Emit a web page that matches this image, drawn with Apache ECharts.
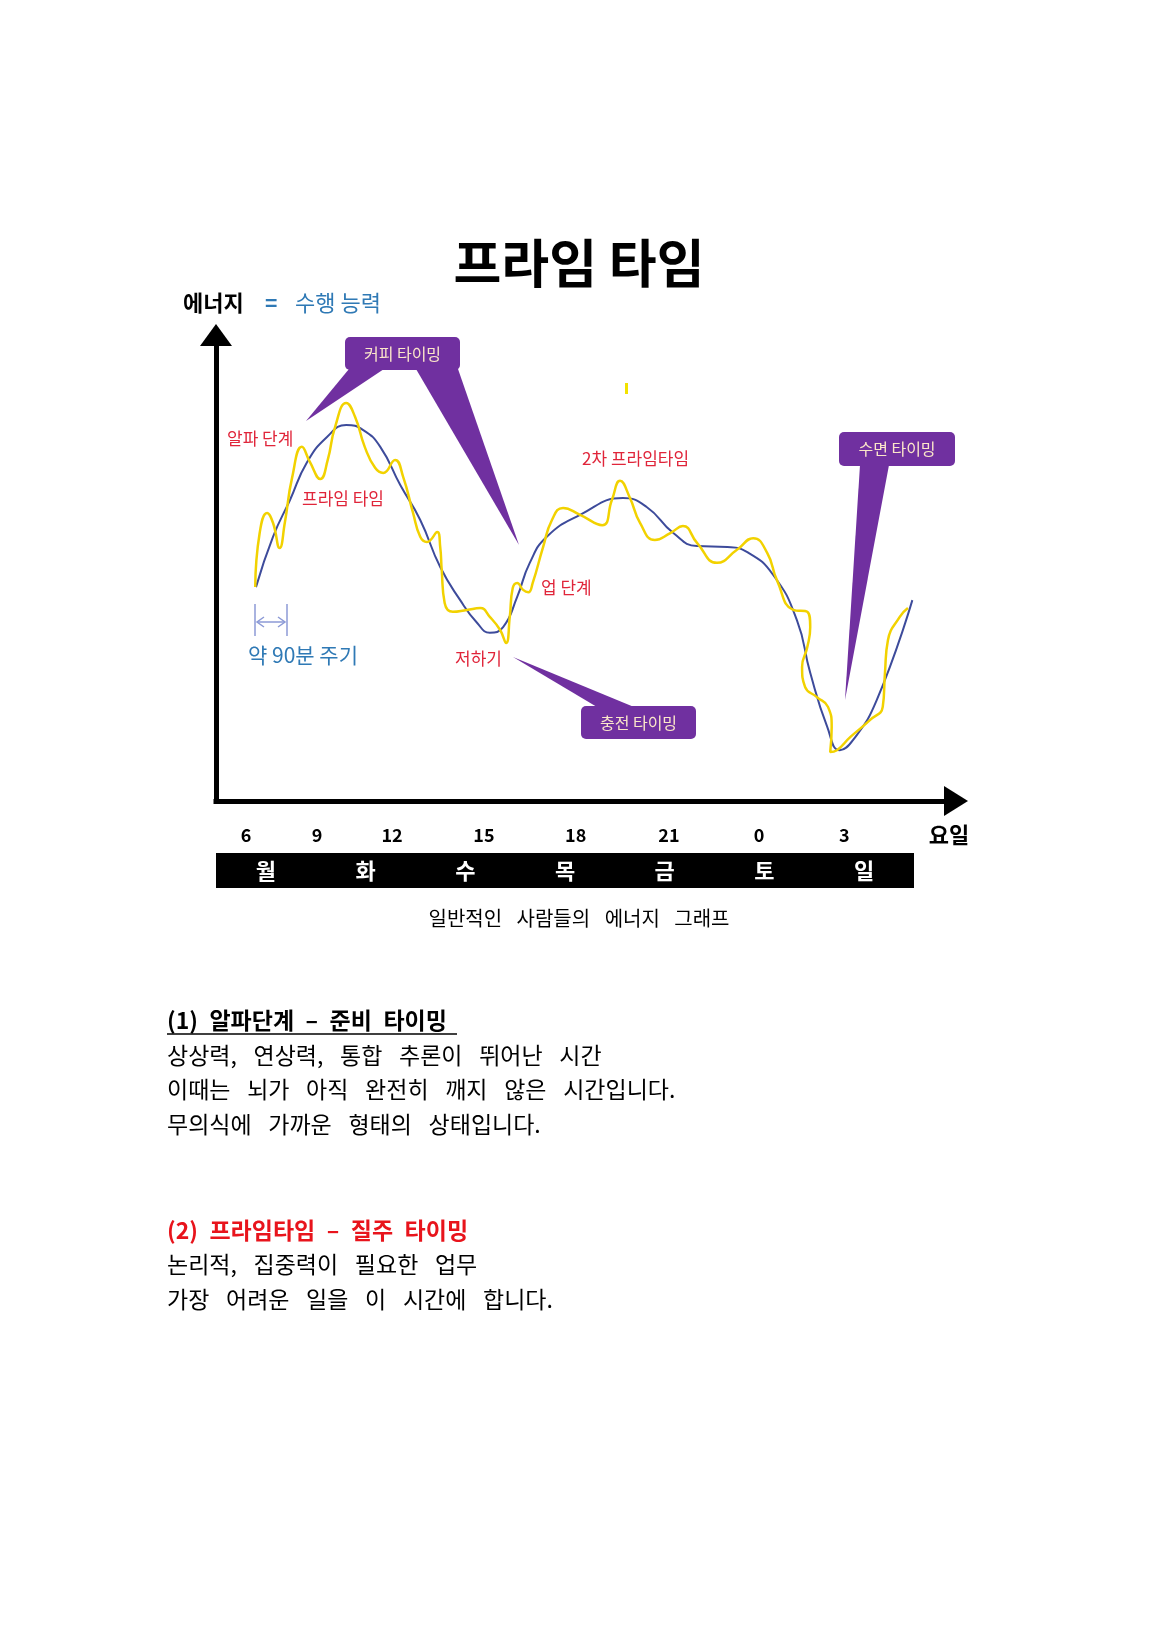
<!DOCTYPE html>
<html><head><meta charset="utf-8">
<script src="https://cdn.jsdelivr.net/npm/echarts@6/dist/echarts.min.js"></script>
<style>html,body{margin:0;padding:0;background:#fff}#c{width:1157px;height:1636px}</style>
</head><body><div id="c"></div>
<script>
// ---- data (x: position along time axis 0..100, y: energy 0..100) ----
const hourTickPos = [4.05, 13.65, 23.8, 36.2, 48.6, 61.2, 73.4, 84.9];
const hourTickLabels = ['6', '9', '12', '15', '18', '21', '0', '3'];
const days = ['월', '화', '수', '목', '금', '토', '일'];

const blueCurve = [
  [5.4, 45.9], [7.7, 56.7], [10.0, 64.6], [12.3, 72.7], [15.0, 78.1], [17.6, 80.7],
  [19.9, 79.6], [22.2, 76.0], [24.9, 67.8], [27.6, 60.3], [30.3, 50.2], [33.0, 43.1],
  [35.3, 38.2], [37.0, 36.1], [38.8, 37.3], [40.7, 43.8], [42.4, 51.1], [44.7, 56.7],
  [49.2, 61.4], [55.0, 65.0], [58.2, 63.1], [61.8, 57.5], [65.0, 54.7], [69.1, 54.5],
  [71.8, 53.4], [75.3, 48.5], [78.5, 38.8], [80.3, 27.5], [82.6, 15.9], [84.3, 10.9],
  [86.1, 13.1], [89.3, 21.7], [94.1, 43.1]
];

const yellowCurve = [
  [5.3, 45.9], [5.9, 57.5], [6.9, 61.8], [7.7, 59.7], [8.6, 54.3], [9.3, 59.7],
  [10.3, 69.5], [11.6, 76.0], [12.7, 72.7], [14.1, 69.1], [15.1, 73.2], [16.1, 80.3],
  [17.6, 85.4], [18.8, 82.4], [20.1, 76.0], [21.5, 71.5], [22.6, 70.4], [24.2, 73.2],
  [25.3, 69.5], [26.6, 62.0], [27.6, 56.7], [28.5, 55.6], [29.9, 57.7], [30.3, 54.5],
  [30.5, 49.6], [30.9, 42.5], [32.0, 40.6], [33.9, 41.0], [35.7, 41.4], [37.0, 39.5],
  [38.4, 36.7], [39.2, 33.9], [39.7, 39.5], [40.1, 45.7], [40.7, 46.8], [41.5, 45.3],
  [42.2, 44.8], [42.8, 46.8], [44.2, 54.5], [45.4, 60.3], [46.9, 62.9], [49.2, 61.4],
  [52.2, 59.2], [53.5, 64.6], [54.6, 68.7], [55.9, 65.2], [57.3, 59.7], [59.3, 56.0],
  [61.4, 57.5], [63.1, 59.0], [65.0, 55.4], [67.7, 51.1], [70.4, 53.9], [72.6, 56.4],
  [74.5, 53.2], [75.8, 47.4], [78.0, 41.0], [79.9, 40.6], [80.3, 37.3], [79.9, 33.0],
  [79.2, 28.8], [79.6, 24.5], [81.2, 22.3], [82.7, 20.2], [83.2, 15.9], [83.0, 10.5],
  [83.9, 10.9], [85.7, 13.7], [88.4, 17.4], [90.1, 20.2], [90.4, 27.5], [90.8, 34.5],
  [92.4, 39.5], [93.5, 41.4]
];

const redLabels = ['알파 단계', '프라임 타임', '저하기', '업 단계', '2차 프라임타임'];
const calloutTexts = ['커피 타이밍', '수면 타이밍', '충전 타이밍'];
const heading1 = '(1) 알파단계 – 준비 타이밍';
const heading2 = '(2) 프라임타임 – 질주 타이밍';
const bodyLines1 = ['상상력, 연상력, 통합 추론이 뛰어난 시간', '이때는 뇌가 아직 완전히 깨지 않은 시간입니다.', '무의식에 가까운 형태의 상태입니다.'];
const bodyLines2 = ['논리적, 집중력이 필요한 업무', '가장 어려운 일을 이 시간에 합니다.'];

// ---- chart ----
const FONT = '"Noto Sans CJK KR", "Noto Sans", sans-serif';
const chart = echarts.init(document.getElementById('c'), null, {renderer: 'canvas', width: 1157, height: 1636});

const PURPLE = '#7030a0';
const CREAM = '#fbe6c9';
const RED = '#e0253a';

function wide(s) { return s.replace(/ /g, '\u2002 '); }
function half(s) { return s.replace(/ /g, '\u2002'); }

function txt(text, x, y, size, opts) {
  opts = opts || {};
  return {
    type: 'text', x: x, y: y, z: 20,
    style: {
      text: text,
      font: (opts.weight || 'normal') + ' ' + size + 'px ' + FONT,
      fill: opts.color || '#000',
      align: opts.align || 'left',
      verticalAlign: 'middle'
    }
  };
}
function poly(points, fill) {
  return {type: 'polygon', z: 15, shape: {points: points}, style: {fill: fill}};
}
function box(x, y, w, h, label) {
  return [
    {type: 'rect', z: 15, shape: {x: x, y: y, width: w, height: h, r: 5}, style: {fill: PURPLE}},
    txt(label, x + w / 2, y + h / 2, 16, {color: CREAM, align: 'center'})
  ];
}
const dimColor = '#8c9ad6';

const graphics = [].concat(
  [
    txt('프라임 타임', 579, 263, 52, {weight: 'bold', align: 'center'}),
    txt('에너지', 183, 303, 22, {weight: 'bold'}),
    txt('=', 265, 303, 21, {weight: 'bold', color: '#2f79b5'}),
    txt('수행 능력', 295, 303, 22, {color: '#2f79b5'}),
    txt('요일', 949, 835, 22, {weight: 'bold', align: 'center'}),
    txt(wide('일반적인 사람들의 에너지 그래프'), 579, 918, 20, {align: 'center'}),
    // red annotations
    txt(redLabels[0], 227, 439, 17, {color: RED}),
    txt(redLabels[1], 302, 499, 17, {color: RED}),
    txt(redLabels[2], 455, 659, 17, {color: RED}),
    txt(redLabels[3], 541, 588, 17, {color: RED}),
    txt(redLabels[4], 582, 459, 17, {color: RED}),
    // 90-minute marker
    {type: 'line', z: 15, shape: {x1: 255, y1: 604, x2: 255, y2: 636}, style: {stroke: dimColor, lineWidth: 1.5}},
    {type: 'line', z: 15, shape: {x1: 287, y1: 604, x2: 287, y2: 636}, style: {stroke: dimColor, lineWidth: 1.5}},
    {type: 'line', z: 15, shape: {x1: 257, y1: 622, x2: 285, y2: 622}, style: {stroke: dimColor, lineWidth: 1.5}},
    {type: 'polyline', z: 15, shape: {points: [[264, 617], [257, 622], [264, 627]]}, style: {stroke: dimColor, lineWidth: 1.5, fill: null}},
    {type: 'polyline', z: 15, shape: {points: [[278, 617], [285, 622], [278, 627]]}, style: {stroke: dimColor, lineWidth: 1.5, fill: null}},
    txt('약 90분 주기', 248, 655, 21, {color: '#2f79b5'}),
    // small yellow mark
    {type: 'rect', z: 15, shape: {x: 625, y: 383, width: 3, height: 11}, style: {fill: '#f2e200'}},
    // callout pointers
    poly([[349, 369], [384, 369], [306, 421]], PURPLE),
    poly([[416, 369], [458, 369], [519, 545]], PURPLE),
    poly([[860, 465], [889, 465], [845, 700]], PURPLE),
    poly([[597, 707], [634, 707], [513, 657]], PURPLE)
  ],
  box(345, 337, 115, 33, calloutTexts[0]),
  box(839, 432, 116, 34, calloutTexts[1]),
  box(581, 706, 115, 33, calloutTexts[2]),
  [
    txt(half(heading1), 167, 1020, 23, {weight: 'bold'}),
    {type: 'line', z: 15, shape: {x1: 167, y1: 1034, x2: 457, y2: 1034}, style: {stroke: '#000', lineWidth: 1.5}},
    txt(wide(bodyLines1[0]), 167, 1055, 23),
    txt(wide(bodyLines1[1]), 167, 1089, 23),
    txt(wide(bodyLines1[2]), 167, 1124, 23),
    txt(half(heading2), 167, 1230, 23, {weight: 'bold', color: '#e8141c'}),
    txt(wide(bodyLines2[0]), 167, 1264, 23),
    txt(wide(bodyLines2[1]), 167, 1299, 23)
  ]
);

chart.setOption({
  backgroundColor: '#fff',
  animation: false,
  grid: [
    {left: 216, top: 335, width: 740, height: 466, containLabel: false},
    {left: 216, top: 853, width: 698, height: 35, show: true, backgroundColor: '#000', borderWidth: 0}
  ],
  xAxis: [
    {
      type: 'value', gridIndex: 0, min: 0, max: 100,
      splitLine: {show: false}, axisTick: {show: false},
      axisLine: {show: true, onZero: true, symbol: ['none', 'triangle'], symbolSize: [30, 24],
        lineStyle: {color: '#000', width: 5, cap: 'square'}},
      axisLabel: {
        customValues: hourTickPos,
        formatter: function (v) {
          const i = hourTickPos.findIndex(function (p) { return Math.abs(p - v) < 1e-6; });
          return i >= 0 ? hourTickLabels[i] : '';
        },
        margin: 25, color: '#000', fontWeight: 'bold', fontSize: 18, fontFamily: FONT
      }
    },
    {
      type: 'category', gridIndex: 1, data: days, boundaryGap: true,
      axisLine: {show: false}, axisTick: {show: false}, splitLine: {show: false},
      axisLabel: {inside: true, margin: 6, color: '#fff', fontWeight: 'bold', fontSize: 22, fontFamily: FONT}
    }
  ],
  yAxis: [
    {
      type: 'value', gridIndex: 0, min: 0, max: 100,
      splitLine: {show: false}, axisTick: {show: false}, axisLabel: {show: false},
      axisLine: {show: true, symbol: ['none', 'triangle'], symbolSize: [32, 22],
        lineStyle: {color: '#000', width: 5, cap: 'square'}}
    },
    {type: 'value', gridIndex: 1, show: false}
  ],
  series: [
    {
      name: 'blue', type: 'line', xAxisIndex: 0, yAxisIndex: 0, data: blueCurve,
      smooth: 0.5, symbol: 'none', clip: false,
      lineStyle: {color: '#3d4b9b', width: 2}
    },
    {
      name: 'yellow', type: 'line', xAxisIndex: 0, yAxisIndex: 0, data: yellowCurve,
      smooth: 0.5, symbol: 'none', clip: false,
      lineStyle: {color: '#f2d200', width: 2.5}
    }
  ],
  graphic: graphics
});
</script>
</body></html>
